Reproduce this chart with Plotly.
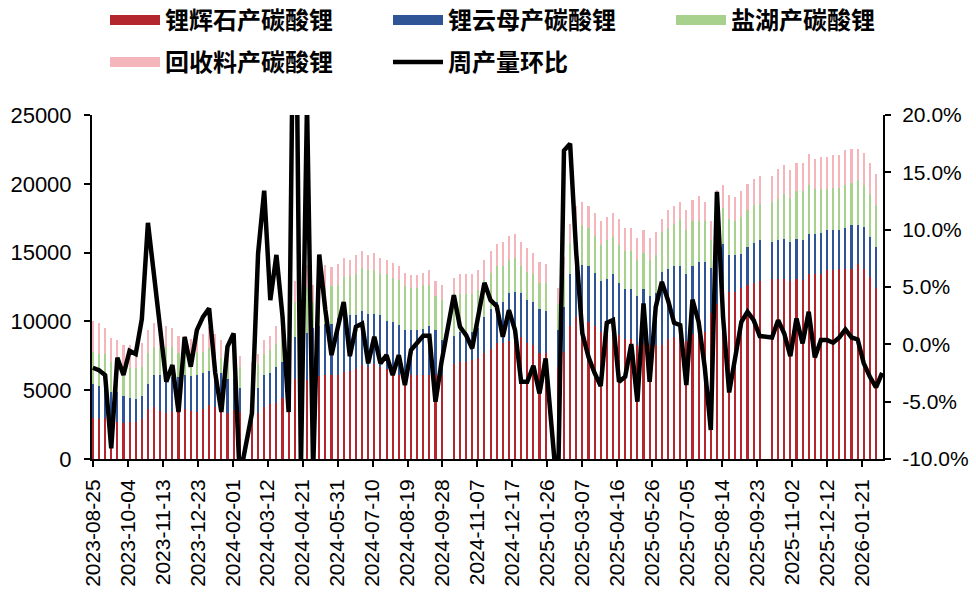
import plotly.graph_objects as go
import pandas as pd

# weekly dates (Fridays); 130 weeks
dates = pd.date_range("2023-08-25", periods=130, freq="7D")

# tonnes per week (None = holiday week without data)
spodumene = [3000, 2880, 3000, 2760, 2710, 2590, 2710, 2710, 2880, 3610,
             3800, 3480, 3320, 3440, 3440, 3610, 3480, 3440, 3610, 3920,
             3800, 3560, 3320, 3560, 3440, None, 3190, 3320, 3800, 3990,
             4090, 4400, 4280, 5780, 5610, 5740, 5980, 6030, 6070, 6070,
             6070, 6340, 6410, 6560, 6820, 6700, 6870, 6700, 6510, 6320,
             6070, 6070, 6070, 6070, 6070, 6070, 6070, 6070, None, 6870,
             7070, 7070, 7190, 7360, 7670, 8030, 8400, 8450, 8590, 8880,
             8880, 8450, 8280, 7740, 7670, None, 6700, 7790, 9660, 10290,
             10040, 9970, 9660, 9240, 9120, 9240, 9000, 8690, 8690, 8280,
             8400, 8280, 8280, 8280, 8690, 8880, 8880, 8570, 9050, 9120,
             9240, 10580, 11250, 11790, 12150, 12150, 12440, 12630, 12800, 12920,
             None, 13070, 13070, 13070, 12920, 13070, 13000, 13410, 13410, 13480,
             13720, 13720, 13840, 13840, 13840, 14160, 13840, 13240, 12440, None]

lepidolite = [2470, 2440, 2200, 2110, 2150, 1980, 1690, 1650, 1690, 1860,
              2300, 2610, 2710, 2520, 2490, 2490, 2520, 2660, 2660, 2490,
              2540, 2660, 2490, 2230, 1690, None, 1570, 1820, 2300, 2270,
              2610, 2660, 2540, 3100, 3030, 3390, 3510, 3630, 3730, 3730,
              4210, 3990, 4040, 3900, 3940, 3870, 3700, 3750, 3530, 3650,
              3650, 3290, 3290, 3290, 3410, 3580, 3290, 2570, None, 2060,
              2180, 2180, 2060, 2130, 2660, 2900, 3030, 2980, 3440, 3270,
              3150, 3100, 3150, 3190, 3100, None, 2660, 3270, 3750, 4040,
              4040, 4070, 3870, 3680, 3940, 4240, 3800, 3630, 3630, 3560,
              3920, 3560, 3750, 5320, 5150, 5150, 5150, 4840, 4990, 5200,
              5080, 3270, 3800, 3800, 2660, 2660, 2490, 2780, 2900, 2980,
              None, 2710, 2830, 2950, 2860, 2950, 2950, 2930, 2930, 2980,
              2900, 2900, 2830, 2980, 3150, 2830, 3030, 2900, 2980, None]

brine = [2320, 2300, 2420, 2200, 2200, 2200, 2180, 2230, 2130, 2200,
         2060, 2010, 2130, 2200, 1740, 1520, 1620, 1570, 1520, 1690,
         1450, 1140, 1260, 1520, 1570, None, 1570, 1740, 1520, 1690,
         1690, 1690, 1570, 2540, 1940, 3390, 1940, 2490, 2710, 2780,
         2350, 2900, 2830, 2980, 3150, 3150, 3150, 3030, 3390, 3150,
         3270, 3240, 3100, 3100, 3150, 2980, 2470, 2900, None, 3100,
         2730, 2730, 2730, 2780, 2660, 2610, 2610, 2610, 2420, 2490,
         2010, 2010, 2010, 1860, 2030, None, 1890, 2180, 2300, 2660,
         2900, 2760, 2660, 2610, 2830, 2660, 2730, 2780, 2780, 2610,
         2660, 2610, 2760, 2900, 2950, 3070, 3440, 3220, 3240, 2950,
         2950, 2060, 2590, 2660, 2660, 2490, 2660, 2660, 2780, 2660,
         None, 2900, 3030, 3270, 3190, 3440, 3510, 3560, 3270, 3150,
         2980, 3100, 3050, 3070, 3070, 3270, 3030, 3150, 3070, None]

recycling = [2230, 2230, 1890, 1720, 1570, 1500, 1690, 1450, 1740, 1690,
             1690, 1790, 1520, 1360, 1260, 1310, 1110, 1210, 1280, 1500,
             1280, 1280, 1280, 1330, 770, None, 700, 750, 1020, 970,
             1260, 1140, 920, 1500, 1090, 1600, 1210, 1570, 1570, 1380,
             1570, 1400, 1210, 1380, 1210, 1090, 1260, 1160, 1060, 1090,
             1040, 920, 940, 940, 900, 1090, 1090, 1090, None, 1090,
             1450, 1450, 1450, 1450, 1500, 1570, 1570, 1740, 1740, 1740,
             1740, 1740, 1500, 1520, 1400, None, 1210, 1450, 1400, 1380,
             1690, 1570, 1690, 1740, 1690, 1740, 1940, 1720, 1720, 1620,
             1690, 1620, 1720, 970, 1280, 1260, 1210, 1450, 1570, 1860,
             1400, 1380, 1940, 1650, 1690, 1740, 1890, 1890, 1890, 1980,
             None, 1860, 2110, 2060, 2060, 2060, 2060, 2230, 2180, 2350,
             2350, 2400, 2400, 2540, 2490, 2300, 2370, 2230, 2200, None]

# week-on-week change of total output, %
wow_pct = [-2.04, -2.25, -2.68, -9.07, -1.17, -2.68, -0.56, -0.85, 2.2, 10.6,
           6.0, 1.5, -3.26, -1.8, -5.9, 0.64, -1.95, 1.24, 2.4, 3.13,
           -2.5, -5.9, -0.2, 0.95, -11.6, None, -6.0, 7.9, 13.4, 3.85,
           7.8, 2.4, -5.9, 42.0, -11.0, 21.0, -11.0, 7.83, 3.0, -0.94,
           1.4, 3.7, -1.03, 1.53, 1.8, -1.66, 0.66, -1.66, -0.94, -2.68,
           -0.94, -3.55, -0.5, 0.08, 0.75, 0.75, -5.0, -1.5, None, 4.29,
           1.53, 0.8, -0.36, 2.69, 5.36, 3.85, 3.33, 0.66, 2.98, 1.24,
           -3.27, -3.27, -1.87, -4.28, -1.23, None, -13.5, 16.9, 17.5, 8.0,
           0.95, -1.08, -2.5, -3.64, 1.88, 2.11, -3.26, -2.83, 0.02, -5.0,
           3.56, -3.26, 3.27, 5.45, 3.85, 1.88, 1.68, -3.55, 3.9, 1.97,
           -1.95, -7.47, 13.3, 2.4, -4.2, -1.2, 1.97, 2.84, 2.11, 0.72,
           None, 0.6, 2.11, 0.95, -1.03, 2.26, 0.08, 2.84, -1.14, 0.37,
           0.37, 0.14, 0.6, 1.3, 0.6, 0.43, -1.66, -2.83, -3.76, -2.5]

series_names = ["锂辉石产碳酸锂", "锂云母产碳酸锂", "盐湖产碳酸锂", "回收料产碳酸锂"]
series_colors = ["#B3262D", "#2F5597", "#A9D18E", "#F4B6BA"]
line_name = "周产量环比"

right_ticks = [-0.10, -0.05, 0.0, 0.05, 0.10, 0.15, 0.20]
right_ticktext = ["-10.0%", "-5.0%", "0.0%", "5.0%", "10.0%", "15.0%", "20.0%"]

DAY_MS = 86400000
W, H = 976, 604
ML, MR, MT, MB = 92, 93, 115, 145
PW, PH = W - ML - MR, H - MT - MB
tick_font = dict(family="Liberation Sans, Arial, sans-serif", size=22, color="black")
rtick_font = dict(family="Liberation Sans, Arial, sans-serif", size=21, color="black")
xtick_font = dict(family="Liberation Sans, Arial, sans-serif", size=21, color="black")
legend_font = dict(family="Noto Sans CJK SC, sans-serif", size=24, color="black", weight="bold")

fig = go.Figure()
for name, vals, col in zip(series_names, [spodumene, lepidolite, brine, recycling], series_colors):
    fig.add_trace(go.Bar(x=dates, y=vals, name=name, marker=dict(color=col, line=dict(width=0)),
                         width=2.4 * DAY_MS, showlegend=False))

# legend swatches (wide rectangles like the reference)
for i, (name, col) in enumerate(zip(series_names, series_colors)):
    fig.add_trace(go.Scatter(x=[None], y=[None], mode="lines", name=name,
                             line=dict(color=col, width=10),
                             legend="legend" if i < 3 else "legend2"))

fig.add_trace(go.Scatter(x=dates, y=[None if v is None else v / 100 for v in wow_pct],
                         name=line_name, mode="lines", yaxis="y2", connectgaps=True,
                         line=dict(color="black", width=4.5), legend="legend2"))

ENTRY = 218          # text slot width -> 283 px between legend columns
ROW1_W = 3 * (ENTRY + 65) - 0   # approx width of the 3-entry row
legend_common = dict(orientation="h", xref="paper", yref="paper", yanchor="top",
                     font=legend_font, itemwidth=50, entrywidth=ENTRY,
                     entrywidthmode="pixels", traceorder="normal",
                     bgcolor="rgba(0,0,0,0)")

fig.update_layout(
    width=W, height=H, autosize=False,
    margin=dict(l=ML, r=MR, t=MT, b=MB, autoexpand=False),
    paper_bgcolor="white", plot_bgcolor="white",
    barmode="stack",
    showlegend=True,
    # row 1: anchored on the right so that three columns fit on one row
    legend=dict(legend_common, xanchor="right", x=(105 + 849 - ML) / PW,
                y=1 + (MT + 2) / PH),
    # row 2
    legend2=dict(legend_common, xanchor="left", x=(105 - ML) / PW,
                 y=1 + (MT - 40) / PH),
    xaxis=dict(type="date", range=["2023-08-24", "2026-02-14"], tick0="2023-08-25",
               dtick=40 * DAY_MS, tickformat="%Y-%m-%d", tickangle=-90,
               ticks="outside", ticklen=6, tickwidth=1.5, tickcolor="black",
               showline=True, linecolor="black", linewidth=2, showgrid=False,
               zeroline=False, tickfont=xtick_font, ticklabelstandoff=4, automargin=False),
    yaxis=dict(range=[0, 25000], dtick=5000, tick0=0, ticks="outside", ticklen=6,
               tickwidth=1.5, tickcolor="black", showline=True, linecolor="black",
               linewidth=2, showgrid=False, zeroline=False, tickfont=tick_font,
               tickformat="d", ticklabelstandoff=8, automargin=False),
    yaxis2=dict(overlaying="y", side="right", range=[-0.10, 0.20], tickvals=right_ticks,
                ticktext=right_ticktext, ticks="outside", ticklen=6, tickwidth=1.5,
                tickcolor="black", showline=True, linecolor="black", linewidth=2,
                showgrid=False, zeroline=False, tickfont=rtick_font,
                ticklabelstandoff=7, automargin=False),
)

# remove the browser's default 8px body margin so the figure fills the window
fig.write_html("out.html", config={"displayModeBar": False},
               post_script="document.body.style.margin='0px';")
